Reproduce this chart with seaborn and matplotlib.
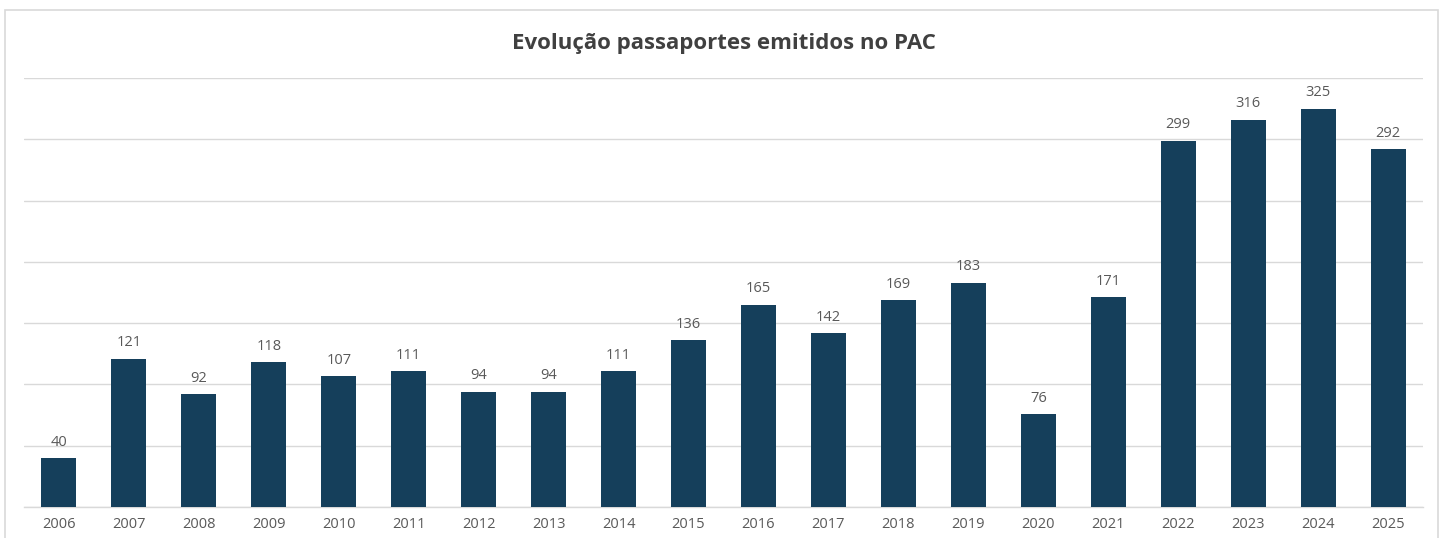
import matplotlib
matplotlib.use("Agg")
import matplotlib.pyplot as plt
import seaborn as sns
import pandas as pd
from matplotlib.patches import Rectangle

years = ["2006", "2007", "2008", "2009", "2010", "2011", "2012", "2013", "2014", "2015",
         "2016", "2017", "2018", "2019", "2020", "2021", "2022", "2023", "2024", "2025"]
values = [40, 121, 92, 118, 107, 111, 94, 94, 111, 136,
          165, 142, 169, 183, 76, 171, 299, 316, 325, 292]
title = "Evolução passaportes emitidos no PAC"

sns.set_style("white")
plt.rcParams['font.family'] = ['Open Sans', 'DejaVu Sans']

df = pd.DataFrame({"year": years, "value": values})

fig = plt.figure(figsize=(14.48, 5.38), dpi=100)
ax = fig.add_axes([24/1448, 1 - 507/538, (1423-24)/1448, (507-78)/538])

# outer frame
fig.patches.append(Rectangle((5/1448, -0.05), (1438-5)/1448, 1.05 - 10/538,
                             transform=fig.transFigure, fill=False,
                             edgecolor="#D9D9D9", linewidth=1.2, zorder=0))

bar_color = "#153F5B"
sns.barplot(data=df, x="year", y="value", color=bar_color, width=0.5,
            saturation=1, linewidth=0, ax=ax, zorder=3)

ax.set_ylim(0, 350)
ax.set_xlim(-0.5, len(years) - 0.5)
ax.set_yticks(range(0, 351, 50))
ax.yaxis.grid(True, color="#D9D9D9", linewidth=1)
ax.set_axisbelow(True)
ax.set_yticklabels([])
ax.tick_params(axis="y", length=0)
ax.tick_params(axis="x", length=0, labelsize=10.5, colors="#595959", pad=7)
for s in ["top", "right", "left"]:
    ax.spines[s].set_visible(False)
ax.spines["bottom"].set_color("#D9D9D9")
ax.spines["bottom"].set_linewidth(1)
ax.set_xlabel("")
ax.set_ylabel("")

for i, v in enumerate(values):
    ax.annotate(str(v), (i, v), xytext=(0, 6), textcoords="offset points",
                ha="center", va="bottom", fontsize=10.5, color="#595959")

fig.text(0.5, 1 - 43/538, title, ha="center", va="center",
         fontsize=16, fontweight="bold", color="#404040")

fig.savefig("out.png", dpi=100)
